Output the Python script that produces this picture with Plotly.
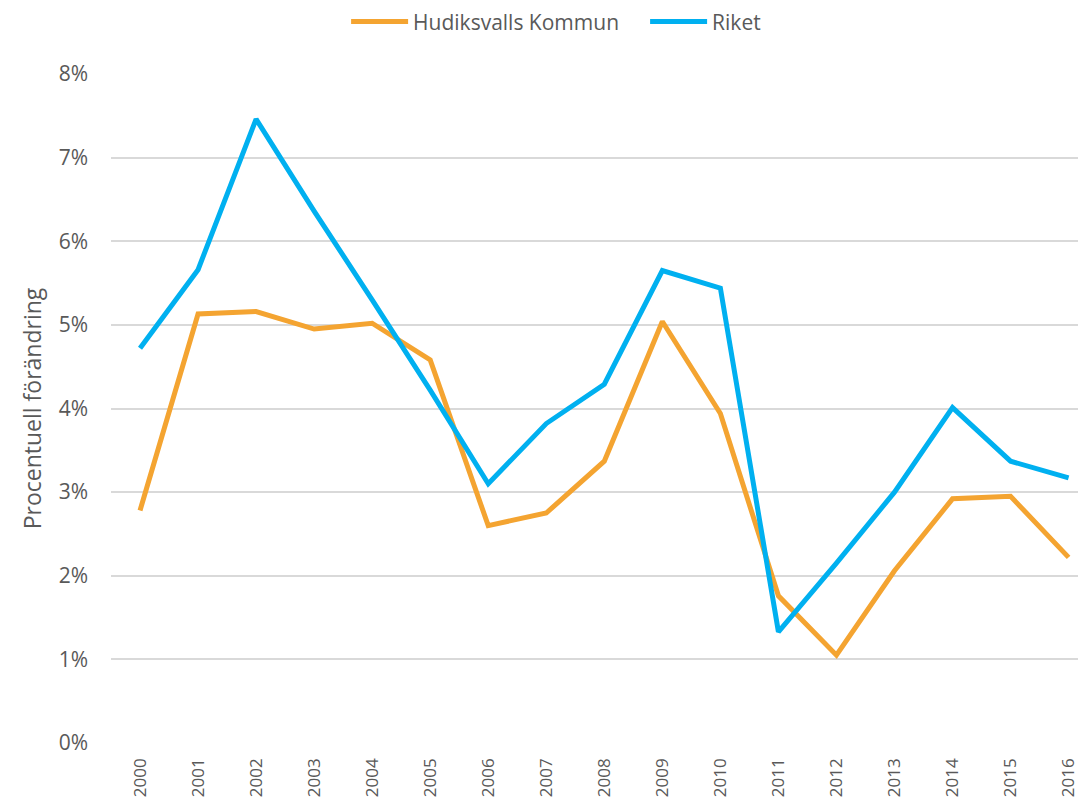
import plotly.graph_objects as go

years = [str(y) for y in range(2000, 2017)]
hudiksvall = [2.78, 5.13, 5.16, 4.95, 5.02, 4.58, 2.60, 2.75, 3.37, 5.04, 3.94, 1.76, 1.05, 2.06, 2.92, 2.95, 2.22]
riket = [4.72, 5.66, 7.46, 6.36, 5.30, 4.22, 3.10, 3.82, 4.29, 5.65, 5.44, 1.33, 2.15, 3.00, 4.01, 3.37, 3.17]
y_ticks = [0, 1, 2, 3, 4, 5, 6, 7, 8]
y_labels = [f"{v}%" for v in y_ticks]

FONT = "Open Sans"
GREY = "#595959"

fig = go.Figure()
fig.add_trace(go.Scatter(x=years, y=hudiksvall, mode="lines", name="Hudiksvalls Kommun",
                         line=dict(color="#F4A431", width=5)))
fig.add_trace(go.Scatter(x=years, y=riket, mode="lines", name="Riket",
                         line=dict(color="#00B0F0", width=5)))

# page body has an 8px default margin, so the figure is offset by (8, 8)
fig.update_layout(
    width=1078, height=798,
    margin=dict(l=103, r=0, t=66, b=63, autoexpand=False),
    paper_bgcolor="white", plot_bgcolor="white",
    font=dict(family=FONT, color=GREY, size=18),
    showlegend=True,
    legend=dict(orientation="h", x=0.591, xanchor="center", xref="container",
                y=1.078, yanchor="middle", yref="paper",
                itemwidth=57, entrywidth=227, font=dict(size=21, color=GREY)),
    xaxis=dict(type="category", range=[-0.5, 16.3], tickangle=-90, automargin=False,
               showgrid=False, zeroline=False, showline=False,
               ticks="", tickfont=dict(size=17, color=GREY), ticklabelstandoff=11),
    yaxis=dict(range=[0, 8], tickvals=y_ticks, ticktext=y_labels, automargin=False,
               showgrid=True, gridcolor="#D9D9D9", gridwidth=1.5,
               zeroline=False, showline=False, ticks="",
               tickfont=dict(size=21, color=GREY), ticklabelstandoff=22,
               title=dict(text="Procentuell förändring", font=dict(size=23, color=GREY), standoff=10)),
)

fig.write_html("out.html")
